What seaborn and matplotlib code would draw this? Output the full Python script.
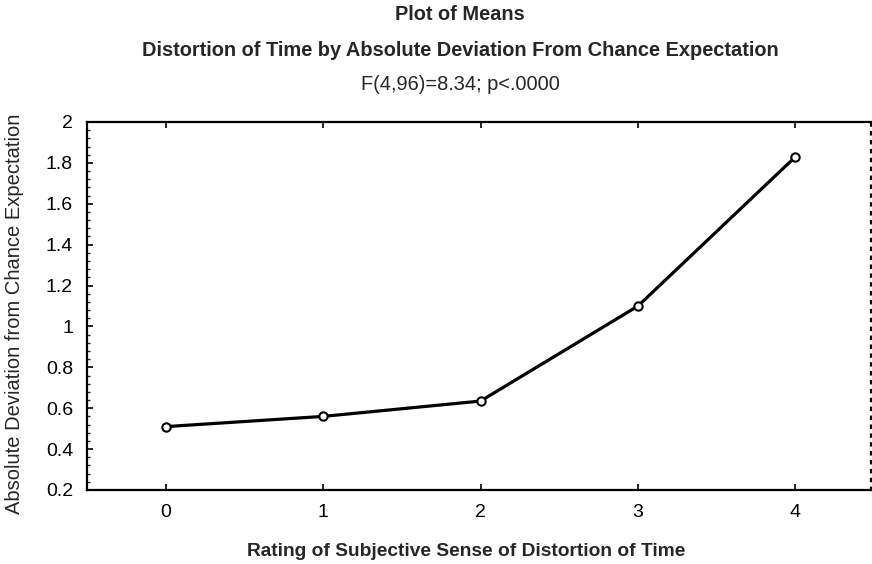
import numpy as np
import pandas as pd
import matplotlib
matplotlib.use("Agg")
import matplotlib.pyplot as plt
from matplotlib.ticker import MultipleLocator, FuncFormatter
import seaborn as sns

# data
ratings = [0, 1, 2, 3, 4]
mean_dev = [0.51, 0.56, 0.635, 1.10, 1.83]

title_lines = [
    "Plot of Means",
    "Distortion of Time by Absolute Deviation From Chance Expectation",
    "F(4,96)=8.34; p<.0000",
]
x_label = "Rating of Subjective Sense of Distortion of Time"
y_label = "Absolute Deviation from Chance Expectation"

df = pd.DataFrame({"rating": ratings, "dev": mean_dev})

sns.set_style("ticks")
plt.rcParams["font.family"] = ["Liberation Sans", "DejaVu Sans"]

fig = plt.figure(figsize=(8.72, 5.64), dpi=100)
ax = fig.add_axes([87 / 872, 1 - 490 / 564, 784 / 872, 368 / 564])

sns.lineplot(
    data=df, x="rating", y="dev", ax=ax,
    color="black", linewidth=2.3,
    marker="o", markersize=6, markerfacecolor="white",
    markeredgecolor="black", markeredgewidth=1.5,
)

ax.set_xlim(-0.5, 4.48)
ax.set_ylim(0.2, 2.0)
ax.xaxis.set_major_locator(MultipleLocator(1))
ax.yaxis.set_major_locator(MultipleLocator(0.2))
ax.yaxis.set_minor_locator(MultipleLocator(0.04))
ax.yaxis.set_major_formatter(FuncFormatter(lambda v, p: f"{v:g}"))

ax.tick_params(axis="both", which="major", direction="in", length=4, width=1.2,
               labelsize=14, colors="black")
ax.tick_params(axis="x", top=True, pad=10)
ax.tick_params(axis="y", which="minor", direction="in", length=2.5, width=1)
ax.tick_params(axis="y", pad=10)

for s in ["left", "bottom", "top"]:
    ax.spines[s].set_color("black")
    ax.spines[s].set_linewidth(1.6)
ax.spines["right"].set_visible(True)
ax.spines["right"].set_linestyle((0, (1, 3)))
ax.spines["right"].set_linewidth(1.6)
ax.spines["right"].set_color("black")

ax.set_xlabel(x_label, fontsize=13.8, fontweight="bold", va="center")
ax.xaxis.set_label_coords((466 - 87) / 784, -62 / 368)
ax.set_ylabel(y_label, fontsize=14.5)
ax.yaxis.set_label_coords(-63 / 784, 0.48)

ys = [15, 50, 85]
for i, (txt, yy) in enumerate(zip(title_lines, ys)):
    fig.text(460 / 872, 1 - yy / 564, txt, ha="center", va="center",
             fontsize=14.4, fontweight="bold" if i < 2 else "normal")

fig.savefig("out.png", dpi=100)
